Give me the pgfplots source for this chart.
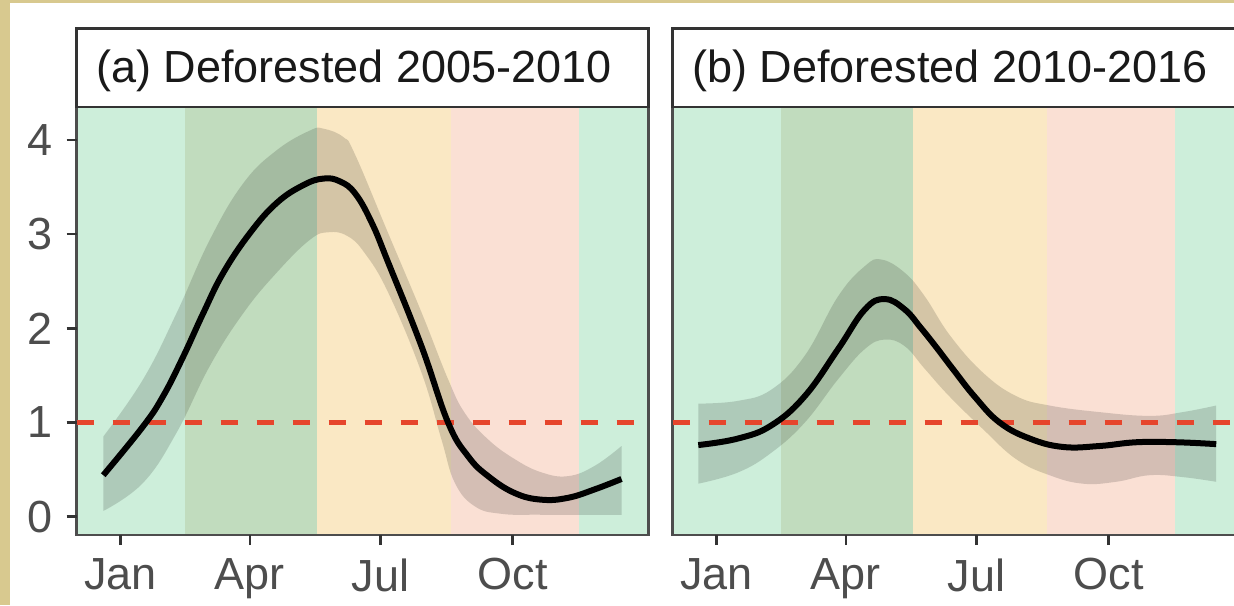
\documentclass[border=0pt]{standalone}
\usepackage{fontspec}
\setmainfont{Liberation Sans}
\usepackage{pgfplots}
\pgfplotsset{compat=1.18}
\usepgfplotslibrary{fillbetween}

\definecolor{winter}{HTML}{CDEEDA}
\definecolor{spring}{HTML}{C1DCBE}
\definecolor{summer}{HTML}{FAE8C4}
\definecolor{autumn}{HTML}{FAE0D4}
\definecolor{refred}{HTML}{E6452C}
\definecolor{tickgray}{HTML}{4D4D4D}
\definecolor{framegray}{HTML}{333333}
\definecolor{khaki}{HTML}{D8C98F}

\newcommand{\labelfont}{\fontsize{22.5}{27}\selectfont}

\pgfplotsset{
  panel/.style={
    set layers,
    scale only axis,
    width=285.75pt, height=214pt,
    xmin=-30.5, xmax=367.5,
    ymin=-0.195, ymax=4.35,
    axis line style={draw=tickgray, line width=1.3pt},
    tick align=outside,
    major tick length=5pt,
    tick style={color=framegray, line width=1.2pt},
    xtick={0,90,181,273},
    xticklabels={Jan,Apr,Jul,Oct},
    xtick pos=left, ytick pos=left,
    ticklabel style={font=\labelfont, text=tickgray},
    xticklabel style={anchor=north, inner sep=0pt, yshift=-6.5pt},
    yticklabel style={anchor=east, inner sep=0pt, xshift=-7pt},
    clip=false,
  },
  season/.style={draw=none, fill=#1, on layer=axis background},
  tickmark/.style={framegray, line width=1.2pt},
  ribbon/.style={draw=none, fill=black, fill opacity=0.15},
  fit/.style={black, line width=3pt},
  refline/.style={refred, line width=2.3pt, dash pattern=on 8.5pt off 9.5pt},
}

% seasonal background bands (day of year), spanning the plotting range
\newcommand{\seasons}{%
  \addplot[season=winter] coordinates {(-30.5,-0.195) (45,-0.195) (45,4.35) (-30.5,4.35)} -- cycle;
  \addplot[season=spring] coordinates {(45,-0.195) (137,-0.195) (137,4.35) (45,4.35)} -- cycle;
  \addplot[season=summer] coordinates {(137,-0.195) (230,-0.195) (230,4.35) (137,4.35)} -- cycle;
  \addplot[season=autumn] coordinates {(230,-0.195) (319,-0.195) (319,4.35) (230,4.35)} -- cycle;
  \addplot[season=winter] coordinates {(319,-0.195) (367.5,-0.195) (367.5,4.35) (319,4.35)} -- cycle;
}
% month tick marks below the panel (Jan, Apr, Jul, Oct)
\newcommand{\monthticks}{%
  \pgfplotsinvokeforeach{0,90,181,273}{%
    \addplot[tickmark] coordinates {(##1,-0.195) (##1,-0.301)};}%
}

\begin{document}
\begin{tikzpicture}
\fill[khaki] (0,0) rectangle (5pt,302.5pt);
\fill[khaki] (0,300.8pt) rectangle (617pt,302.5pt);

% ---------------- (a) Deforested 2005-2010 ----------------
\begin{axis}[panel, name=pa, at={(38.35pt,35pt)}, anchor=south west,
  ytick={0,1,2,3,4}, yticklabels={0,1,2,3,4}]
  \seasons
  \monthticks
  \pgfplotsinvokeforeach{0,1,2,3,4}{%
    \addplot[tickmark] coordinates {(-30.5,#1) (-37.46,#1)};}
  \addplot[name path=ua, draw=none, smooth, tension=0.7] coordinates {
    (-12,0.85) (15.8,1.46) (39,2.16) (62.2,2.94) (85.5,3.54) (108.7,3.89)
    (131.9,4.10) (141.3,4.12) (155.2,4.03) (163.2,3.85) (186.4,3.01)
    (209.6,2.17) (228.1,1.46) (239.8,1.10) (256,0.82) (274.6,0.61)
    (293.2,0.47) (311.7,0.43) (330.3,0.54) (348.9,0.75)};
  \addplot[name path=la, draw=none, smooth, tension=0.7] coordinates {
    (-12,0.06) (15.8,0.36) (39,0.89) (62.2,1.60) (85.5,2.16) (108.7,2.59)
    (131.9,2.94) (145,3.02) (158,2.98) (170,2.80) (186.4,2.38)
    (209.6,1.53) (223.5,0.82) (232.8,0.36) (246.7,0.11) (265.3,0.03)
    (293.2,0.02) (348.9,0.02)};
  \addplot[ribbon] fill between[of=ua and la];
  \addplot[refline] coordinates {(-30.5,1) (367.5,1)};
  \addplot[fit, smooth, tension=0.7] coordinates {
    (-12,0.44) (15.8,0.96) (29.7,1.28) (43.7,1.70) (57.6,2.16) (71.6,2.59)
    (90.1,3.01) (108.7,3.33) (127.3,3.52) (141.3,3.59) (152.8,3.56)
    (163.5,3.43) (175,3.12) (186.4,2.70) (209.6,1.81) (228.1,1.00)
    (242.1,0.64) (256,0.43) (274.6,0.25) (293.2,0.18) (311.7,0.20)
    (330.3,0.29) (348.9,0.40)};
\end{axis}

% ---------------- (b) Deforested 2010-2016 ----------------
\begin{axis}[panel, name=pb, at={(336.35pt,35pt)}, anchor=south west,
  ytick=\empty]
  \seasons
  \monthticks
  \addplot[name path=ub, draw=none, smooth, tension=0.7] coordinates {
    (-12.7,1.20) (15.1,1.23) (38.3,1.35) (61.5,1.71) (84.7,2.34) (103.3,2.66)
    (114.9,2.73) (131.1,2.59) (145,2.34) (162.8,1.92) (185.5,1.53)
    (208.7,1.28) (231.9,1.18) (266.7,1.11) (301.5,1.07) (324.7,1.11)
    (348,1.18)};
  \addplot[name path=lb, draw=none, smooth, tension=0.7] coordinates {
    (-12.7,0.35) (15.1,0.47) (38.3,0.68) (61.5,1.00) (84.7,1.46) (103.3,1.78)
    (117.2,1.88) (131.1,1.81) (145,1.57) (162,1.28) (185.5,0.93)
    (208.7,0.61) (231.9,0.44) (255.1,0.35) (278.3,0.37) (301.5,0.44)
    (324.7,0.42) (348,0.37)};
  \addplot[ribbon] fill between[of=ub and lb];
  \addplot[refline] coordinates {(-30.5,1) (367.5,1)};
  \addplot[fit, smooth, tension=0.7] coordinates {
    (-12.7,0.76) (15.1,0.83) (38.3,0.97) (61.5,1.28) (84.7,1.78) (103.3,2.20)
    (117.2,2.31) (131.1,2.20) (142,2.01) (153,1.80) (165,1.56) (180,1.27)
    (197.1,1.00) (218,0.83) (241.2,0.74) (266.7,0.75) (292.3,0.79)
    (320.1,0.79) (348,0.77)};
\end{axis}

% facet strips
\foreach \ax/\lab in {pa/{(a) Deforested 2005-2010}, pb/{(b) Deforested 2010-2016}}{
  \draw[fill=white, draw=framegray, line width=1.3pt]
    (\ax.north west) rectangle ([yshift=39.25pt]\ax.north east);
  \node[anchor=base west, inner sep=0pt, font=\labelfont, text=black!90]
    at ([xshift=9.5pt, yshift=12.5pt]\ax.north west) {\lab};
}

\pgfresetboundingbox
\useasboundingbox (0,0) rectangle (617pt,302.5pt);
\end{tikzpicture}
\end{document}
